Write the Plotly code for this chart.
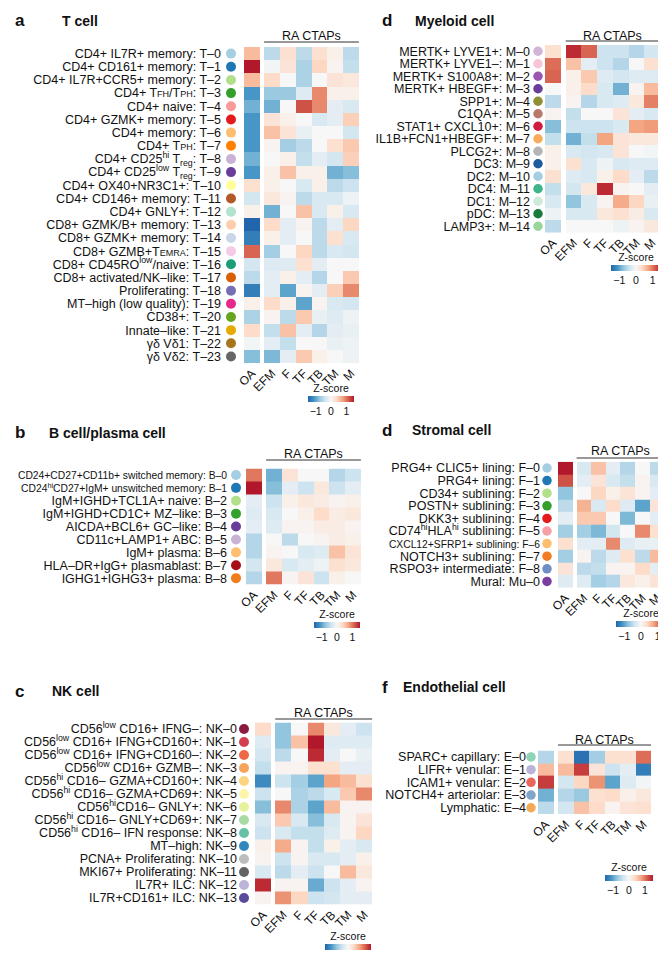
import plotly.graph_objects as go

W, H = 666, 953
cols = ["OA", "EFM", "F", "TF", "TB", "TM", "M"]

# ---------------- data ----------------
t_labels = [
    "CD4+ IL7R+ memory: T–0",
    "CD4+ CD161+ memory: T–1",
    "CD4+ IL7R+CCR5+ memory: T–2",
    "CD4+ T<span style='font-size:9px'>FH</span>/T<span style='font-size:9px'>PH</span>: T–3",
    "CD4+ naive: T–4",
    "CD4+ GZMK+ memory: T–5",
    "CD4+ memory: T–6",
    "CD4+ T<span style='font-size:9px'>PH</span>: T–7",
    "CD4+ CD25<sup>hi</sup> T<sub>reg</sub>: T–8",
    "CD4+ CD25<sup>low</sup> T<sub>reg</sub>: T–9",
    "CD4+ OX40+NR3C1+: T–10",
    "CD4+ CD146+ memory: T–11",
    "CD4+ GNLY+: T–12",
    "CD8+ GZMK/B+ memory: T–13",
    "CD8+ GZMK+ memory: T–14",
    "CD8+ GZMB+T<span style='font-size:9px'>EMRA</span>: T–15",
    "CD8+ CD45RO<sup>low</sup>/naive: T–16",
    "CD8+ activated/NK–like: T–17",
    "Proliferating: T–18",
    "MT–high (low quality): T–19",
    "CD38+: T–20",
    "Innate–like: T–21",
    "γδ Vδ1: T–22",
    "γδ Vδ2: T–23",
]
t_colors = ["#a6cee3", "#1f78b4", "#b2df8a", "#33a02c", "#fb9a99", "#e31a1c", "#fdbf6f",
            "#ff7f00", "#cab2d6", "#6a3d9a", "#ffff99", "#b15928", "#b3e2cd", "#fdcdac",
            "#cbd5e8", "#f4cae4", "#1b9e77", "#d95f02", "#7570b3", "#e7298a", "#66a61e",
            "#e6ab02", "#a6761d", "#666666"]
t_z = [
    [0.6, -0.5, 0.3, -0.5, 0.3, 0.1, -0.5],
    [1.5, -0.05, 0.25, -0.6, 0.4, 0.05, -0.45],
    [0.6, 0.35, 0.0, -0.6, 0.0, 0.25, 0.2],
    [-1.1, -0.7, -0.7, -0.25, 0.9, 0.1, 0.1],
    [-0.9, -0.9, 0.0, 1.2, 0.9, -0.2, -0.3],
    [-1.1, 0.25, 0.1, 0.0, -0.3, -0.2, 0.45],
    [-1.1, 0.55, 0.25, -0.15, 0.0, 0.0, -0.35],
    [-1.1, 0.05, -0.65, -0.5, 0.0, 0.3, 0.5],
    [-0.9, 0.0, 0.1, -0.45, -0.2, -0.35, 0.45],
    [-1.1, 0.1, 0.55, 0.1, 0.1, -0.9, -0.8],
    [0.3, 0.1, 0.0, -0.3, 0.1, -0.5, -0.4],
    [-0.35, 0.2, 0.05, -0.5, -0.3, -0.3, -0.1],
    [0.1, -0.9, 0.0, 0.55, -0.3, 0.1, -0.3],
    [-1.5, 0.35, -0.2, 0.05, -0.5, -0.2, 0.4],
    [-1.3, 0.1, -0.2, 0.0, -0.5, 0.3, -0.3],
    [1.1, -0.65, 0.0, 0.4, -0.5, -0.3, -0.35],
    [-0.35, -0.25, -0.25, 0.3, -0.2, 0.0, 0.0],
    [-0.5, -0.2, 0.1, -0.2, -0.55, 0.0, 0.5],
    [-1.3, -0.2, -1.0, 0.05, -0.2, 0.45, 0.9],
    [0.1, 0.35, 0.1, -1.0, 0.05, -0.3, -0.35],
    [-0.6, 0.05, -0.5, 0.5, -0.15, -0.25, -0.1],
    [0.35, -0.45, 0.55, -0.2, -0.55, -0.2, -0.15],
    [-0.05, -0.2, -0.45, 0.0, 0.0, -0.15, -0.1],
    [-0.8, -0.85, -0.2, 0.5, 0.1, 0.0, -0.1],
]

b_labels = [
    "<span style='font-size:10.3px'>CD24+CD27+CD11b+ switched memory: B–0</span>",
    "<span style='font-size:10.3px'>CD24<sup>hi</sup>CD27+IgM+ unswitched memory: B–1</span>",
    "IgM+IGHD+TCL1A+ naive: B–2",
    "IgM+IGHD+CD1C+ MZ–like: B–3",
    "AICDA+BCL6+ GC–like: B–4",
    "CD11c+LAMP1+ ABC: B–5",
    "IgM+ plasma: B–6",
    "HLA–DR+IgG+ plasmablast: B–7",
    "IGHG1+IGHG3+ plasma: B–8",
]
b_colors = ["#a6cee3", "#1f78b4", "#b2df8a", "#33a02c", "#6a3d9a", "#cab2d6", "#fdbf6f",
            "#a50f15", "#f07c1b"]
b_z = [
    [1.0, -0.9, 0.25, 0.0, 0.0, -0.55, -0.4],
    [1.5, -0.8, -0.2, -0.4, 0.2, -0.4, -0.2],
    [-0.2, -0.4, 0.1, 0.2, 0.15, 0.05, 0.1],
    [-0.25, -0.3, 0.0, 0.1, 0.35, 0.15, 0.2],
    [-0.2, -0.25, 0.05, 0.05, 0.15, 0.15, 0.05],
    [-0.55, 0.0, -0.5, 0.0, 0.05, 0.15, 0.1],
    [-0.55, 0.05, 0.0, -0.3, -0.25, 0.55, 0.25],
    [-0.35, 0.2, -0.3, -0.2, -0.1, 0.3, 0.2],
    [-0.55, 1.0, 0.05, 0.25, -0.4, 0.1, 0.0],
]

nk_labels = [
    "CD56<sup>low</sup> CD16+ IFNG–: NK–0",
    "CD56<sup>low</sup> CD16+ IFNG+CD160+: NK–1",
    "CD56<sup>low</sup> CD16+ IFNG+CD160–: NK–2",
    "CD56<sup>low</sup> CD16+ GZMB–: NK–3",
    "CD56<sup>hi</sup> CD16– GZMA+CD160+: NK–4",
    "CD56<sup>hi</sup> CD16– GZMA+CD69+: NK–5",
    "CD56<sup>hi</sup>CD16– GNLY+: NK–6",
    "CD56<sup>hi</sup> CD16– GNLY+CD69+: NK–7",
    "CD56<sup>hi</sup> CD16– IFN response: NK–8",
    "MT–high: NK–9",
    "PCNA+ Proliferating: NK–10",
    "MKI67+ Proliferating: NK–11",
    "IL7R+ ILC: NK–12",
    "IL7R+CD161+ ILC: NK–13",
]
nk_colors = ["#8c1a3f", "#d33f50", "#ee6a45", "#f7a45c", "#fdd580", "#fef5a8", "#e8f29c",
             "#a8dba3", "#66c2a5", "#3288bd", "#bdbdbd", "#636363", "#bcb5d9", "#5b4a9a"]
nk_z = [
    [0.35, -0.75, 0.0, 0.9, 0.2, -0.2, -0.4],
    [-0.25, -0.75, 0.55, 1.5, -0.25, -0.25, -0.25],
    [-0.35, -0.5, 0.0, 1.4, -0.2, 0.0, -0.15],
    [-0.45, 0.05, 0.05, 0.3, 0.3, -0.2, -0.2],
    [-1.2, -0.4, -0.65, -1.0, 0.75, 0.6, 0.3],
    [-0.4, 0.0, -0.6, -0.5, -0.3, 0.5, 0.9],
    [-0.8, 0.9, -0.6, -1.0, 0.6, 0.05, 0.05],
    [-0.3, 0.5, -0.3, -0.8, -0.3, 0.05, 0.25],
    [-0.4, -0.3, -0.45, -0.45, -0.25, 0.05, 0.4],
    [0.1, 0.7, 0.05, -0.45, 0.1, -0.2, -0.3],
    [0.05, -0.4, 0.05, -0.3, -0.3, -0.2, 0.1],
    [-0.3, -0.5, -0.2, -0.4, 0.0, 0.6, 0.2],
    [1.4, 0.05, 0.05, -0.95, -0.4, -0.2, 0.05],
    [0.05, 0.85, 0.4, -0.4, -0.35, -0.2, -0.2],
]

my_labels = ["MERTK+ LYVE1+: M–0", "MERTK+ LYVE1–: M–1", "MERTK+ S100A8+: M–2",
             "MERTK+ HBEGF+: M–3", "SPP1+: M–4", "C1QA+: M–5", "STAT1+ CXCL10+: M–6",
             "IL1B+FCN1+HBEGF+: M–7", "PLCG2+: M–8", "DC3: M–9", "DC2: M–10", "DC4: M–11",
             "DC1: M–12", "pDC: M–13", "LAMP3+: M–14"]
my_colors = ["#d2b5d6", "#f6c5d6", "#9a55b0", "#6a3d9a", "#8f8f33", "#b77b6d", "#d01c40",
             "#f8ac5b", "#b5b5b5", "#1f5c9e", "#a6cee3", "#3fb58a", "#cfeadb", "#1a7a3a",
             "#9ad59a"]
my_z = [
    [0.3, 1.4, 1.1, -0.4, -0.4, -0.55, -0.35],
    [1.05, 0.55, -0.2, -0.4, -0.55, 0.0, 0.3],
    [1.1, 0.1, 0.5, -0.25, -0.35, -0.25, -0.25],
    [0.0, 0.1, 0.35, -0.3, -0.9, 0.05, 0.6],
    [-0.5, 0.05, -0.55, -0.3, -0.25, 0.2, 0.95],
    [0.05, -0.45, 0.0, 0.0, 0.25, -0.2, -0.3],
    [-0.8, -0.4, -0.4, -0.4, -0.3, 0.75, 0.8],
    [-0.45, -0.9, -0.45, 0.75, 0.25, 0.2, 0.2],
    [0.1, -0.3, -0.35, -0.3, 0.25, 0.0, -0.05],
    [0.1, 0.3, -0.3, -0.1, -0.3, -0.25, -0.25],
    [0.3, -0.25, -0.3, 0.1, 0.35, -0.2, -0.5],
    [-0.45, -0.35, 0.2, 1.4, 0.05, 0.0, -0.2],
    [-0.3, -0.75, -0.3, 0.05, 0.7, 0.4, -0.15],
    [-0.1, -0.3, -0.3, 0.2, 0.3, 0.15, -0.3],
    [-0.5, 0.0, 0.0, 0.0, -0.1, 0.05, 0.2],
]

st_labels = ["PRG4+ CLIC5+ lining: F–0", "PRG4+ lining: F–1", "CD34+ sublining: F–2",
             "POSTN+ sublining: F–3", "DKK3+ sublining: F–4",
             "CD74<sup>hi</sup>HLA<sup>hi</sup> sublining: F–5",
             "<span style='font-size:10.3px'>CXCL12+SFRP1+ sublining: F–6</span>",
             "NOTCH3+ sublining: F–7", "RSPO3+ intermediate: F–8", "Mural: Mu–0"]
st_colors = ["#a6cee3", "#1f78b4", "#b2df8a", "#33a02c", "#e31a1c", "#f4a0a6", "#fdbf6f",
             "#f07c24", "#6f8fc6", "#7a3f9e"]
st_z = [
    [1.5, -0.3, 0.55, -0.2, -0.55, 0.0, -0.5],
    [1.2, -0.2, 0.25, -0.3, -0.45, 0.05, -0.3],
    [-0.75, 0.0, 0.4, 0.1, 0.25, 0.05, -0.2],
    [-0.5, 0.65, -0.3, 0.35, -0.25, -1.0, 0.25],
    [-0.2, 0.5, 0.5, 0.0, -0.85, 0.0, -0.2],
    [-0.65, -0.65, -0.85, -0.35, 0.0, 0.9, 0.3],
    [0.3, -0.2, -0.2, 0.9, -0.25, -0.15, -0.15],
    [-0.65, 0.05, -0.5, -0.25, 0.3, -0.5, 0.6],
    [0.25, -0.5, -0.45, 0.05, 0.05, 0.35, -0.2],
    [-0.25, -0.25, -0.65, -0.55, 0.2, 0.1, 0.25],
]

en_labels = ["SPARC+ capillary: E–0", "LIFR+ venular: E–1", "ICAM1+ venular: E–2",
             "NOTCH4+ arteriolar: E–3", "Lymphatic: E–4"]
en_colors = ["#8fd4b4", "#bcb4d8", "#e8675a", "#7fa6c9", "#f4a958"]
en_z = [
    [-0.55, 0.3, -1.4, -0.65, 0.3, 0.3, 1.05],
    [0.6, 0.6, 1.3, 0.25, -0.4, -0.2, -1.3],
    [1.3, -0.35, 0.4, 0.85, -1.0, -0.25, -0.05],
    [-0.9, -0.55, -0.7, 0.3, 0.35, 0.1, 0.2],
    [-0.5, -0.35, 0.55, 0.35, 0.05, 0.25, 0.3],
]

# ---------------- layout geometry (pixels) ----------------
panels = [
    dict(labels=t_labels, colors=t_colors, z=t_z, x0=236, cw=15.8, gap=4.3, top=39, rh=13.17,
         lab_end=213, dot=223, dsize=10, cb_cx=323, cb_y=391, cb_len=46, ra_y=28, line_y=34,
         letter="a", let_x=5, let_y=13, title="T cell", tit_x=52),
    dict(labels=b_labels, colors=b_colors, z=b_z, x0=238, cw=15.8, gap=4.3, top=460.5, rh=12.9,
         lab_end=219, dot=228, dsize=10, cb_cx=329, cb_y=617, cb_len=46, ra_y=446, line_y=452,
         letter="b", let_x=5, let_y=425, title="B cell/plasma cell", tit_x=39),
    dict(labels=nk_labels, colors=nk_colors, z=nk_z, x0=247, cw=16.2, gap=4, top=714.5, rh=13,
         lab_end=229, dot=236, dsize=10, cb_cx=340, cb_y=939, cb_len=46, ra_y=705, line_y=711,
         letter="c", let_x=5, let_y=683, title="NK cell", tit_x=42),
    dict(labels=my_labels, colors=my_colors, z=my_z, x0=537, cw=15.7, gap=5, top=37, rh=12.5,
         lab_end=522, dot=530, dsize=9.5, cb_cx=628, cb_y=260, cb_len=50, ra_y=28, line_y=33,
         letter="d", let_x=372, let_y=13, title="Myeloid cell", tit_x=405),
    dict(labels=st_labels, colors=st_colors, z=st_z, x0=550, cw=14.6, gap=4, top=453.7, rh=12.6,
         lab_end=532, dot=539, dsize=9.5, cb_cx=633, cb_y=616, cb_len=50, ra_y=443, line_y=450,
         letter="d", let_x=372, let_y=422, title="Stromal cell", tit_x=402),
    dict(labels=en_labels, colors=en_colors, z=en_z, x0=530, cw=15.5, gap=4.5, top=742.6, rh=12.7,
         lab_end=518, dot=523, dsize=9.5, cb_cx=621, cb_y=870, cb_len=48, ra_y=732, line_y=737,
         letter="f", let_x=372, let_y=679, title="Endothelial cell", tit_x=393),
]


def px2x(px):
    return px / W


def py2y(py):
    return 1 - py / H


colorscale = [[0, "#2166AC"], [0.125, "#4393C3"], [0.25, "#92C5DE"], [0.375, "#D1E5F0"],
              [0.5, "#F7F7F7"], [0.625, "#FDDBC7"], [0.75, "#F4A582"], [0.875, "#D6604D"],
              [1, "#B2182B"]]

FONT = "Liberation Sans, Arial, Helvetica, sans-serif"
fig = go.Figure()
annotations = []
shapes = []
layout_axes = {}

for i, p in enumerate(panels, start=1):
    xa = "x" if i == 1 else f"x{i}"
    ya = "y" if i == 1 else f"y{i}"
    n = len(p["labels"])
    cw = p["cw"]
    gu = p["gap"] / cw
    edges = [0, 1, 1 + gu] + [1 + gu + k for k in range(1, 7)]
    zrows = [[r[0], None] + list(r[1:]) for r in p["z"]]
    centers = [0.5] + [1 + gu + 0.5 + k for k in range(6)]
    L = (p["lab_end"] + 1 - p["x0"]) / cw
    R = 7 + gu
    dom_x = [px2x(p["x0"] + L * cw), px2x(p["x0"] + R * cw)]
    dom_y = [py2y(p["top"] + n * p["rh"]), py2y(p["top"])]

    fig.add_trace(go.Heatmap(
        z=zrows, x=edges, y=list(range(n)), xaxis=xa, yaxis=ya,
        colorscale=colorscale, zmin=-1.5, zmax=1.5, hoverongaps=False,
        colorbar=dict(orientation="h", x=px2x(p["cb_cx"]), xanchor="center",
                      y=py2y(p["cb_y"]), yanchor="middle", len=p["cb_len"],
                      lenmode="pixels", thickness=6, thicknessmode="pixels",
                      outlinewidth=0, tickvals=[-1, 0, 1], ticktext=["−1", "0", "1"],
                      tickfont=dict(size=10.5, family=FONT), ticks="", ticklen=0,
                      title=dict(text="Z-score", side="top", font=dict(size=10.5, family=FONT)),
                      xpad=0, ypad=0),
    ))
    fig.add_trace(go.Scatter(
        x=[(p["dot"] - p["x0"]) / cw] * n, y=list(range(n)), xaxis=xa, yaxis=ya,
        mode="markers", cliponaxis=False, showlegend=False, hoverinfo="skip",
        marker=dict(size=p["dsize"], color=p["colors"], line=dict(width=0)),
    ))
    layout_axes["xaxis" if i == 1 else f"xaxis{i}"] = dict(
        domain=dom_x, range=[L, R], anchor=ya, tickvals=centers, ticktext=cols,
        tickangle=-45, tickfont=dict(size=12, family=FONT), showgrid=False,
        zeroline=False, showline=False, ticks="", automargin=False, fixedrange=True)
    layout_axes["yaxis" if i == 1 else f"yaxis{i}"] = dict(
        domain=dom_y, range=[n - 0.5, -0.5], anchor=xa, tickvals=list(range(n)),
        ticktext=p["labels"], tickfont=dict(size=12.5, family=FONT), showgrid=False,
        zeroline=False, showline=False, ticks="", automargin=False, fixedrange=True)

    annotations.append(dict(text="RA CTAPs", x=(1 + gu + R) / 2, xref=xa,
                            y=py2y(p["ra_y"]), yref="paper", yanchor="middle",
                            showarrow=False, font=dict(size=12.5, family=FONT)))
    shapes.append(dict(type="line", xref=xa, yref="paper", x0=1 + gu, x1=R,
                       y0=py2y(p["line_y"]), y1=py2y(p["line_y"]),
                       line=dict(color="#333333", width=1)))
    annotations.append(dict(text="<b>" + p["letter"] + "</b>", x=px2x(p["let_x"]), xref="paper",
                            xanchor="left", y=py2y(p["let_y"]), yref="paper",
                            yanchor="middle", showarrow=False, font=dict(size=17, family=FONT)))
    annotations.append(dict(text="<b>" + p["title"] + "</b>", x=px2x(p["tit_x"]), xref="paper",
                            xanchor="left", y=py2y(p["let_y"]), yref="paper",
                            yanchor="middle", showarrow=False, font=dict(size=14, family=FONT)))

fig.update_layout(
    width=W, height=H, margin=dict(l=0, r=0, t=0, b=0, autoexpand=False),
    paper_bgcolor="white", plot_bgcolor="white",
    font=dict(family=FONT, color="#111111"),
    showlegend=False, annotations=annotations, shapes=shapes, **layout_axes,
)
fig.write_html("out.html")
